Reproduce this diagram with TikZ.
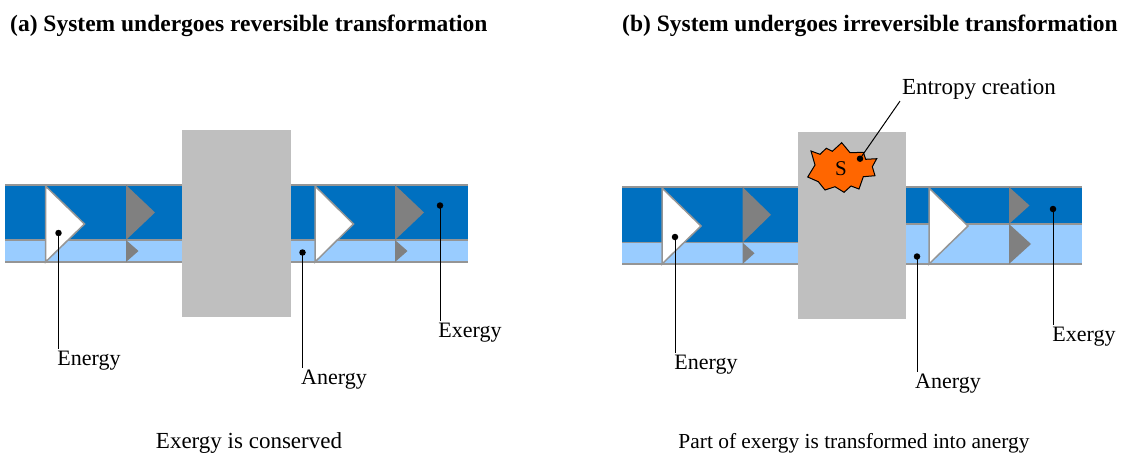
\documentclass[tikz,border=0pt]{standalone}
\usepackage{fontspec}
\setmainfont{Liberation Serif}
\usetikzlibrary{positioning}
\definecolor{darkflow}{HTML}{0070C0}
\definecolor{lightflow}{HTML}{99CCFF}
\definecolor{edgegray}{HTML}{959595}
\definecolor{arrowgray}{HTML}{808080}
\definecolor{boxgray}{HTML}{BFBFBF}
\definecolor{burst}{HTML}{FF6600}
\begin{document}
\begin{tikzpicture}[
    x=1pt,
    y=-1pt,
    font=\fontsize{23}{27}\selectfont,
    title/.style={
      anchor=west,
      inner sep=0pt,
      font=\fontsize{23.5}{27}\selectfont\bfseries
    },
    caption/.style={
      inner sep=0pt
    },
    label/.style={
      inner sep=0pt,
      outer sep=2pt,
      font=\fontsize{22}{26}\selectfont
    },
    dot/.style={
      circle,
      fill=black,
      inner sep=0pt,
      minimum size=6.5pt
    },
    connector/.style={
      draw=black,
      line width=1pt
    },
    band/.style={
      line width=1.6pt,
      draw=edgegray
    },
    system/.style={
      fill=boxgray
    },
    white arrow/.style={
      fill=white,
      draw=edgegray,
      line width=1.5pt,
      line join=miter
    },
    gray arrow/.style={
      fill=arrowgray
    },
]

\newcommand{\flowArrow}[5]{%
  \path[#1] (#2,#3) -- (#5,{(#3+#4)/2}) -- (#2,#4) -- cycle;
}

\useasboundingbox (0,0) rectangle (1121,456);

% Left bands
\fill[darkflow] (5,185) rectangle (468,240);
\fill[lightflow] (5,240) rectangle (468,262);
\draw[band] (5,185) -- (468,185);
\draw[band] (5,240) -- (468,240);
\draw[band] (5,262) -- (468,262);

% Left arrows
\flowArrow{white arrow}{45.5}{186}{262}{84.5}
\flowArrow{gray arrow}{126}{185}{240}{155}
\flowArrow{gray arrow}{126}{240}{262}{138.5}
\flowArrow{white arrow}{315}{186}{262}{353.5}
\flowArrow{gray arrow}{395}{185}{240}{424}
\flowArrow{gray arrow}{395}{240}{262}{407.5}

% Left system
\fill[system] (182,130) rectangle (291,317);

% Right bands
\fill[darkflow] (622,187) rectangle (800,242.5);
\fill[lightflow] (622,242.5) rectangle (800,264);
\fill[darkflow] (900,187) rectangle (1082,224);
\fill[lightflow] (900,224) rectangle (1082,264);
\draw[band] (622,187) -- (1082,187);
\draw[band] (622,242.5) -- (800,242.5);
\draw[band] (900,224) -- (1082,224);
\draw[band] (622,264) -- (1082,264);

% Right arrows
\flowArrow{white arrow}{662}{188}{264}{701}
\flowArrow{gray arrow}{742.5}{187}{242.5}{771}
\flowArrow{gray arrow}{742.5}{242.5}{264}{754.5}
\flowArrow{white arrow}{929}{188}{264}{968}
\flowArrow{gray arrow}{1009}{187}{224}{1029.5}
\flowArrow{gray arrow}{1009}{224}{264}{1031}

% Right system
\fill[system] (798,132) rectangle (906,319);
\draw[fill=burst, line width=1pt, line join=miter]
  (811,151) -- (820,154.3) -- (826.3,148.3) -- (832.3,151.3) -- (841.7,142.7)
  -- (850,152.7) -- (863.3,152.3) -- (865.7,159.3) -- (876.7,158.7)
  -- (872.3,166.7) -- (875,175.7) -- (863.3,176.7) -- (859,189) -- (851,186)
  -- (844,192.3) -- (835,186.7) -- (825,190) -- (818.3,181.7) -- (807.7,177)
  -- (815,165) -- cycle;
\node[label, font=\fontsize{21}{25}\selectfont] (entropyS) at (841,169) {S};

% Titles
\node[title] (titleA) at (10,26) {(a) System undergoes reversible transformation};
\node[title] (titleB) at (622,26) {(b) System undergoes irreversible transformation};

% Labels
\node[label] (energyA) at (89,361) {Energy};
\node[label] (anergyA) at (334,380) {Anergy};
\node[label] (exergyA) at (470,333) {Exergy};
\node[caption] (captionA) at (249,443) {Exergy is conserved};
\node[label] (energyB) at (706,365) {Energy};
\node[label] (anergyB) at (948,384) {Anergy};
\node[label] (exergyB) at (1084,337) {Exergy};
\node[label, anchor=west, font=\fontsize{23}{27}\selectfont] (entropy) at (900,89) {Entropy creation};
\node[caption, font=\fontsize{21.4}{25}\selectfont] (captionB) at (854,443) {Part of exergy is transformed into anergy};

% Dots
\node[dot] (dotEnergyA) at (58.5,233) {};
\node[dot] (dotAnergyA) at (302.5,252.5) {};
\node[dot] (dotExergyA) at (440,205.5) {};
\node[dot] (dotEnergyB) at (675,237) {};
\node[dot] (dotAnergyB) at (917,256.5) {};
\node[dot] (dotExergyB) at (1053,209) {};
\node[dot] (dotEntropy) at (860,158.7) {};

% Connectors
\draw[connector] (dotEnergyA.center) -- (dotEnergyA.center |- energyA.north);
\draw[connector] (dotAnergyA.center) -- (dotAnergyA.center |- anergyA.north);
\draw[connector] (dotExergyA.center) -- (dotExergyA.center |- exergyA.north);
\draw[connector] (dotEnergyB.center) -- (dotEnergyB.center |- energyB.north);
\draw[connector] (dotAnergyB.center) -- (dotAnergyB.center |- anergyB.north);
\draw[connector] (dotExergyB.center) -- (dotExergyB.center |- exergyB.north);
\draw[connector] (dotEntropy.center) -- (entropy.south west);

\end{tikzpicture}
\end{document}
